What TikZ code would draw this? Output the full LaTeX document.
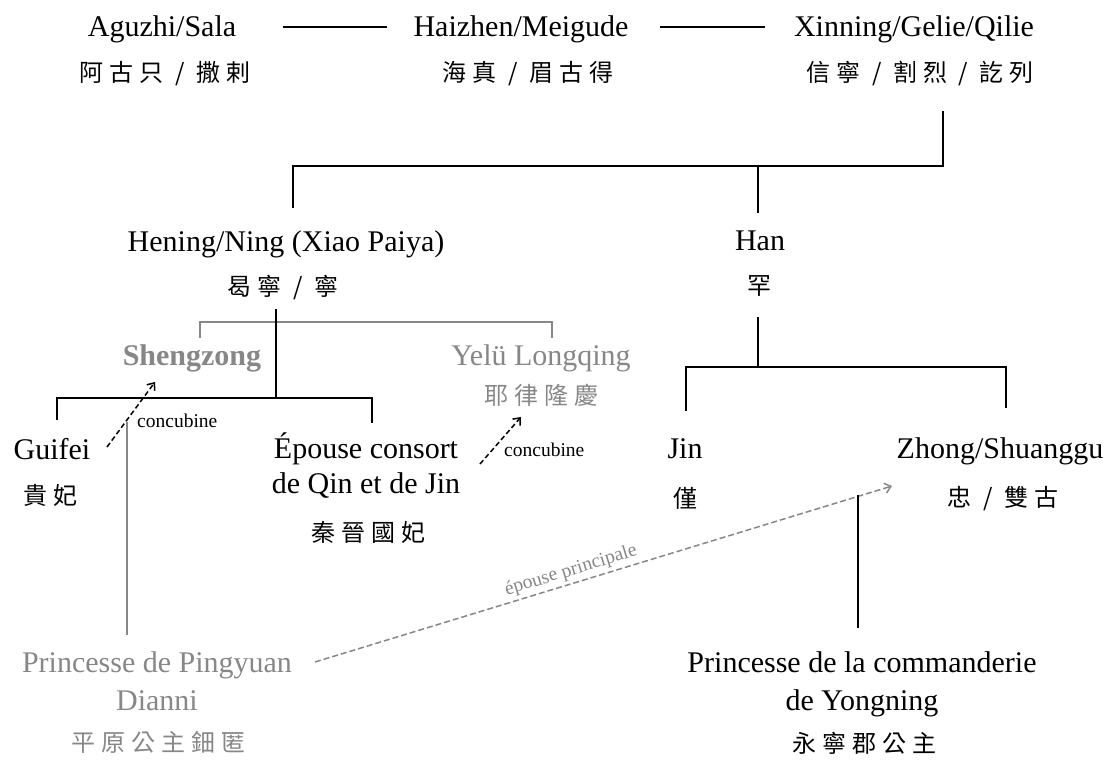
\documentclass[tikz,border=0pt]{standalone}
\usepackage{fontspec}
\setmainfont{Liberation Serif}
\newfontfamily\cjkfont[LetterSpace=25]{Noto Sans CJK TC}
\usetikzlibrary{arrows.meta}
\definecolor{fade}{RGB}{135,135,135}

\begin{document}
\begin{tikzpicture}[x=1pt,y=-1pt,
  person/.style={anchor=base,inner sep=0pt,font=\fontsize{30}{36}\selectfont},
  hanzi/.style={anchor=base,inner sep=0pt,font=\cjkfont\fontsize{24}{30}\selectfont},
  note/.style={inner sep=0pt,font=\fontsize{19.5}{22}\selectfont},
  faded/.style={text=fade},
  link/.style={line width=1.8pt},
  sidelink/.style={line width=1.8pt,draw=fade},
  concubine/.style={line width=1.5pt,dash pattern=on 5pt off 3pt,-{Straight Barb[length=6pt,width=10pt]}},
  marriage/.style={line width=1.5pt,draw=fade,dash pattern=on 6pt off 3pt,-{Straight Barb[length=6pt,width=10pt]}}]
\useasboundingbox (0,0) rectangle (1115,762);

% top row
\node[person] (aguzhi) at (162,37) {Aguzhi/Sala};
\node[hanzi] (aguzhi-zh) at (165,82) {阿古只 / 撒剌};
\node[person] (haizhen) at (521,37) {Haizhen/Meigude};
\node[hanzi] (haizhen-zh) at (528,82) {海真 / 眉古得};
\node[person] (xinning) at (914,37) {Xinning/Gelie/Qilie};
\node[hanzi] (xinning-zh) at (920,82) {信寧 / 割烈 / 訖列};
\coordinate (sib1a) at (283,27);
\coordinate (sib1b) at (387,27);
\coordinate (sib2a) at (660,27);
\coordinate (sib2b) at (765,27);
\draw[link] (sib1a) -- (sib1b);
\draw[link] (sib2a) -- (sib2b);

% children of Xinning
\node[person] (hening) at (286,251) {Hening/Ning (Xiao Paiya)};
\node[hanzi] (hening-zh) at (283,295) {曷寧 / 寧};
\node[person] (han) at (760,250) {Han};
\node[hanzi] (han-zh) at (759,294) {罕};
\coordinate (xinning-down) at (943,111);
\coordinate (xinning-bar) at (943,166);
\coordinate (hening-up) at (293,208);
\coordinate (han-up) at (758,213);
\draw[link] (xinning-down) -- (xinning-bar) -| (hening-up);
\draw[link] (han-up) -- (han-up |- xinning-bar);

% Shengzong and his brother
\node[person,faded,font=\fontsize{30}{36}\selectfont\bfseries] (shengzong) at (192,365) {Shengzong};
\node[person,faded] (longqing) at (541,365) {Yelü Longqing};
\node[hanzi,faded] (longqing-zh) at (541,404) {耶律隆慶};
\coordinate (shengzong-up) at (200,338);
\coordinate (longqing-up) at (552,338);
\coordinate (sib-bar) at (276,322);
\draw[sidelink] (shengzong-up) |- (sib-bar) -| (longqing-up);

% daughters of Hening
\node[person] (guifei) at (52,459) {Guifei};
\node[hanzi] (guifei-zh) at (50,504) {貴妃};
\node[person] (epouse) at (366,458) {Épouse consort};
\node[person] (epouse-b) at (366,493) {de Qin et de Jin};
\node[hanzi] (epouse-zh) at (368,541) {秦晉國妃};
\coordinate (hening-down) at (276,309);
\coordinate (hening-bar) at (276,398);
\coordinate (guifei-up) at (57,420);
\coordinate (epouse-up) at (372,423);
\draw[link] (hening-down) -- (hening-bar);
\draw[link] (guifei-up) |- (hening-bar) -| (epouse-up);

% concubines
\coordinate (guifei-link) at (107,447);
\coordinate (shengzong-link) at (155,382);
\draw[concubine] (guifei-link) -- (shengzong-link);
\node[note,anchor=base west] (conc1) at (137,427) {concubine};
\coordinate (epouse-link) at (480,464);
\coordinate (longqing-link) at (521,417);
\draw[concubine] (epouse-link) -- (longqing-link);
\node[note,anchor=base west] (conc2) at (504,456) {concubine};

% children of Han
\node[person] (jin) at (685,458) {Jin};
\node[hanzi] (jin-zh) at (685,507) {僅};
\node[person] (zhong) at (1000,458) {Zhong/Shuanggu};
\node[hanzi] (zhong-zh) at (1003,506) {忠 / 雙古};
\coordinate (han-down) at (758,317);
\coordinate (han-bar) at (758,367);
\coordinate (jin-up) at (686,411);
\coordinate (zhong-up) at (1006,408);
\draw[link] (han-down) -- (han-bar);
\draw[link] (jin-up) |- (han-bar) -| (zhong-up);

% Pingyuan
\node[person,faded] (pingyuan) at (157,672) {Princesse de Pingyuan};
\node[person,faded] (pingyuan-b) at (157,710) {Dianni};
\node[hanzi,faded] (pingyuan-zh) at (158,751) {平原公主鈿匿};
\coordinate (shengzong-child) at (127,422);
\coordinate (pingyuan-up) at (127,635);
\draw[sidelink] (shengzong-child) -- (pingyuan-up);
\coordinate (pingyuan-link) at (315,662);
\coordinate (zhong-link) at (892,486);
\draw[marriage] (pingyuan-link) -- node[note,faded,sloped,above=3pt,pos=0.45] (wife) {épouse principale} (zhong-link);

% Yongning
\node[person] (yongning) at (862,672) {Princesse de la commanderie};
\node[person] (yongning-b) at (862,710) {de Yongning};
\node[hanzi] (yongning-zh) at (864,752) {永寧郡公主};
\coordinate (union) at (858,495);
\coordinate (yongning-up) at (858,628);
\draw[link] (union) -- (yongning-up);
\end{tikzpicture}
\end{document}
